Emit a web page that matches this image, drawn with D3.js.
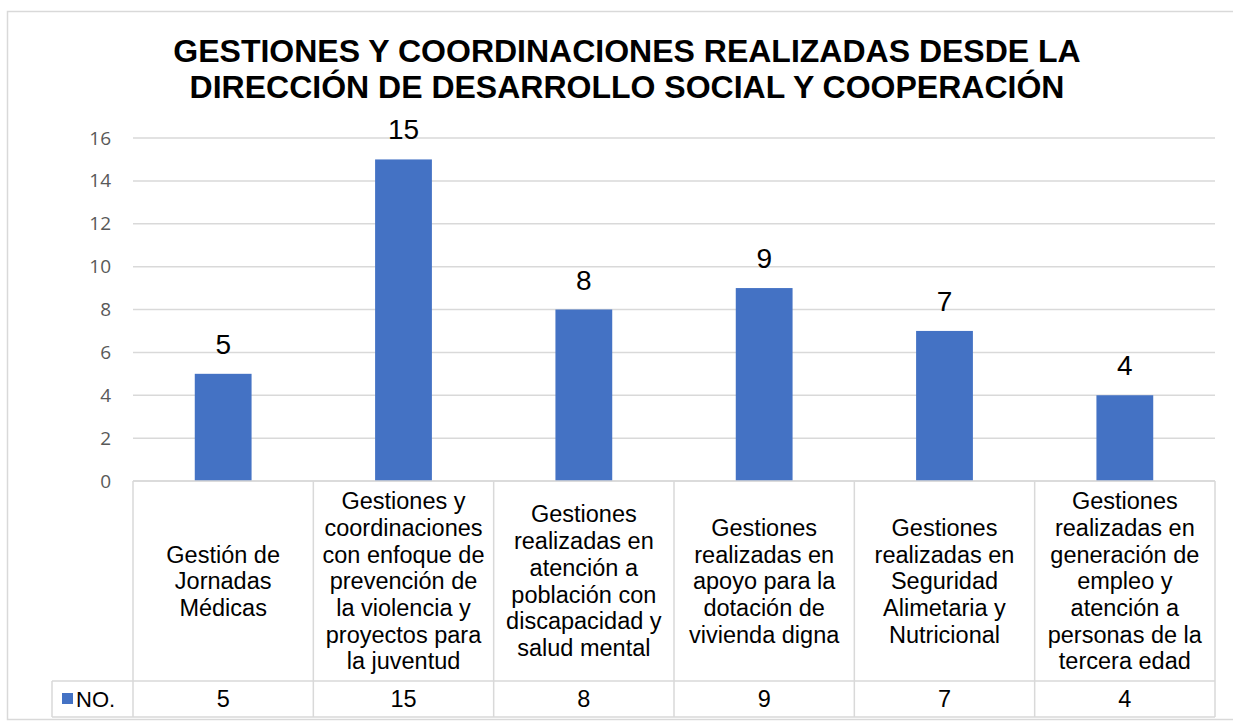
<!DOCTYPE html>
<html>
<head>
    <meta charset="utf-8">
    <script src="https://d3js.org/d3.v7.min.js"></script>
    <style>
        body { margin: 0; background: #fff; }
        svg { display: block; }
        .tick text { font-family: "Open Sans", sans-serif; font-size: 19px; fill: #595959; }
        .cat { font-family: "Liberation Sans", Arial, sans-serif; font-size: 23.5px; fill: #000; }
    </style>
</head>
<body>
<script>
    // data
    let categories = [
        ["Gestión de", "Jornadas", "Médicas"],
        ["Gestiones y", "coordinaciones", "con enfoque de", "prevención de", "la violencia y", "proyectos para", "la juventud"],
        ["Gestiones", "realizadas en", "atención a", "población con", "discapacidad y", "salud mental"],
        ["Gestiones", "realizadas en", "apoyo para la", "dotación de", "vivienda digna"],
        ["Gestiones", "realizadas en", "Seguridad", "Alimetaria y", "Nutricional"],
        ["Gestiones", "realizadas en", "generación de", "empleo y", "atención a", "personas de la", "tercera edad"]
    ];
    let values = [5, 15, 8, 9, 7, 4];
    let yTicks = [0, 2, 4, 6, 8, 10, 12, 14, 16];
    let seriesName = "NO.";
    let titleLines = ["GESTIONES Y COORDINACIONES REALIZADAS DESDE LA", "DIRECCIÓN DE DESARROLLO SOCIAL Y COOPERACIÓN"];

    let W = 1233, H = 721;
    let plotL = 133, plotR = 1215, plotT = 138, plotB = 481;
    let catBottom = 681, legBottom = 717, legLeft = 52;
    let barColor = "#4472c4", lineColor = "#d9d9d9";

    let svg = d3.select("body").append("svg")
        .attr("width", W)
        .attr("height", H);

    // chart frame
    svg.append("rect")
        .attr("x", 7.5).attr("y", 11.5)
        .attr("width", 1240).attr("height", 708)
        .attr("fill", "none").attr("stroke", lineColor).attr("stroke-width", 1.5);

    let idx = values.map((d, i) => i);
    let x = d3.scaleBand().domain(idx).range([plotL, plotR]).paddingInner(0).paddingOuter(0);
    let y = d3.scaleLinear().domain([0, 16]).range([plotB, plotT]);

    // gridlines
    svg.append("g").selectAll("line")
        .data(yTicks)
        .join("line")
        .attr("x1", plotL).attr("x2", plotR)
        .attr("y1", d => y(d)).attr("y2", d => y(d))
        .attr("stroke", lineColor).attr("stroke-width", 1.5);

    let yAxis = d3.axisLeft(y).tickValues(yTicks).tickSize(0).tickPadding(0);
    let ga = svg.append("g")
        .attr("transform", "translate(" + 111 + ",0)")
        .call(yAxis);
    ga.select(".domain").remove();

    // bars
    let bw = x.bandwidth() * 0.315;
    svg.append("g").selectAll("rect")
        .data(values)
        .join("rect")
        .attr("x", (d, i) => x(i) + x.bandwidth() / 2 - bw / 2)
        .attr("y", d => y(d))
        .attr("width", bw)
        .attr("height", d => y(0) - y(d))
        .attr("fill", barColor);

    // data labels
    svg.append("g").selectAll("text")
        .data(values)
        .join("text")
        .attr("x", (d, i) => x(i) + x.bandwidth() / 2)
        .attr("y", d => y(d) - 20)
        .attr("text-anchor", "middle")
        .style("font-family", "'Liberation Sans', Arial, sans-serif")
        .style("font-size", "28px")
        .text(d => d);

    // data table grid
    let tg = svg.append("g").attr("stroke", lineColor).attr("stroke-width", 1.5);
    tg.append("line").attr("x1", plotL).attr("x2", plotR).attr("y1", plotB).attr("y2", plotB);
    tg.append("line").attr("x1", legLeft).attr("x2", plotR).attr("y1", catBottom).attr("y2", catBottom);
    tg.append("line").attr("x1", legLeft).attr("x2", plotR).attr("y1", legBottom).attr("y2", legBottom);
    tg.append("line").attr("x1", legLeft).attr("x2", legLeft).attr("y1", catBottom).attr("y2", legBottom);
    tg.selectAll(".v")
        .data(idx.concat([idx.length]))
        .join("line")
        .attr("x1", d => d < idx.length ? x(d) : plotR)
        .attr("x2", d => d < idx.length ? x(d) : plotR)
        .attr("y1", plotB).attr("y2", legBottom);

    // category labels
    let lh = 26.7;
    let cells = svg.append("g").selectAll("g")
        .data(categories)
        .join("g");
    cells.each(function(lines, i) {
        let cy = (plotB + catBottom) / 2 - (lines.length - 1) * lh / 2;
        d3.select(this).selectAll("text")
            .data(lines)
            .join("text")
            .attr("class", "cat")
            .attr("x", x(i) + x.bandwidth() / 2)
            .attr("y", (d, j) => cy + j * lh)
            .attr("dy", "0.35em")
            .attr("text-anchor", "middle")
            .text(d => d);
    });

    // values row
    svg.append("g").selectAll("text")
        .data(values)
        .join("text")
        .attr("class", "cat")
        .attr("x", (d, i) => x(i) + x.bandwidth() / 2)
        .attr("y", (catBottom + legBottom) / 2)
        .attr("dy", "0.35em")
        .attr("text-anchor", "middle")
        .text(d => d);

    // legend key
    svg.append("rect")
        .attr("x", 62).attr("y", 693)
        .attr("width", 11).attr("height", 11)
        .attr("fill", barColor);
    svg.append("text")
        .attr("class", "cat")
        .style("font-size", "22px")
        .attr("x", 76)
        .attr("y", (catBottom + legBottom) / 2)
        .attr("dy", "0.35em")
        .text(seriesName);

    // title
    svg.append("g").selectAll("text")
        .data(titleLines)
        .join("text")
        .attr("x", 627)
        .attr("y", (d, i) => 62 + i * 36)
        .attr("text-anchor", "middle")
        .style("font-family", "'Liberation Sans', Arial, sans-serif")
        .style("font-weight", "bold")
        .style("font-size", "32px")
        .text(d => d);
</script>
</body>
</html>
